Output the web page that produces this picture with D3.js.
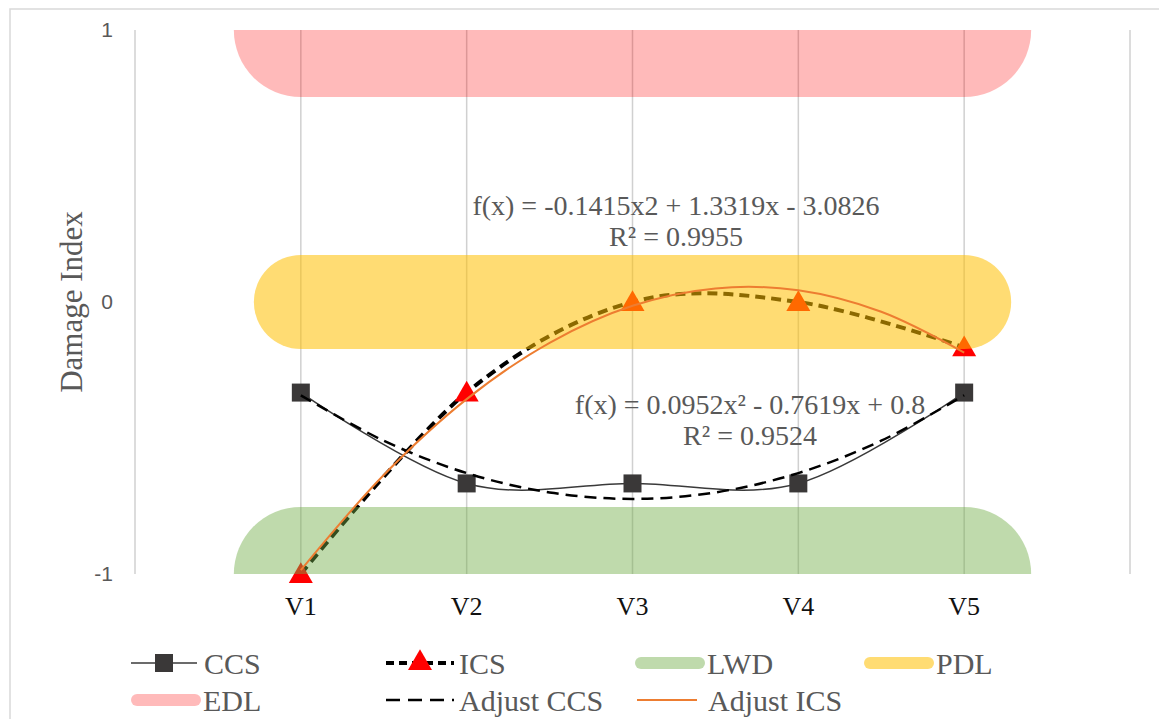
<!DOCTYPE html>
<html>
<head>
<meta charset="utf-8">
<script src="https://cdn.jsdelivr.net/npm/d3@7"></script>
<style>
  html, body { margin: 0; padding: 0; background: #fff; }
  svg { display: block; }
</style>
</head>
<body>
<div id="chart"></div>
<script>
// data
const categories = ['V1', 'V2', 'V3', 'V4', 'V5'];
const ccs = [-0.333, -0.667, -0.667, -0.667, -0.333];
const ics = [-1, -0.333, 0, 0, -0.167];
const lwd = [-1, -1, -1, -1, -1];
const pdl = [0, 0, 0, 0, 0];
const edl = [1, 1, 1, 1, 1];
// trendlines, read at half steps
const trendX = [1, 1.5, 2, 2.5, 3, 3.5, 4, 4.5, 5];
const adjustCcs = [-0.343, -0.510, -0.629, -0.700, -0.724, -0.700, -0.629, -0.510, -0.343];
const adjustIcs = [-0.986, -0.636, -0.357, -0.150, -0.014, 0.050, 0.043, -0.036, -0.186];
const yTicks = [-1, 0, 1];
const eqIcs = ['f(x) = -0.1415x2 + 1.3319x - 3.0826', 'R² = 0.9955'];
const eqCcs = ['f(x) = 0.0952x² - 0.7619x + 0.8', 'R² = 0.9524'];

const width = 1159;
const height = 719;
const serif = 'Liberation Serif, Times New Roman, serif';
const grey = '#595959';

const svg = d3.select('#chart').append('svg')
  .attr('width', width)
  .attr('height', height);

// chart border
svg.append('rect')
  .attr('x', 10).attr('y', 9)
  .attr('width', 1300).attr('height', 900)
  .attr('fill', 'none')
  .attr('stroke', '#d9d9d9')
  .attr('stroke-width', 1.5);

const x = d3.scaleLinear().domain([0, 6]).range([135, 1130]);
const y = d3.scaleLinear().domain([-1, 1]).range([574, 30]);

svg.append('clipPath').attr('id', 'plot')
  .append('rect')
  .attr('x', x(0)).attr('y', y(1))
  .attr('width', x(6) - x(0)).attr('height', y(-1) - y(1));

// vertical gridlines
svg.append('g')
  .selectAll('line')
  .data(d3.range(0, 7))
  .enter()
  .append('line')
  .attr('x1', d => x(d)).attr('x2', d => x(d))
  .attr('y1', y(1)).attr('y2', y(-1))
  .attr('stroke', '#d0d0d0')
  .attr('stroke-width', 1.5);

// y tick labels
svg.append('g')
  .selectAll('text')
  .data(yTicks)
  .enter()
  .append('text')
  .attr('x', 113)
  .attr('y', d => y(d))
  .attr('dy', '0.35em')
  .attr('text-anchor', 'end')
  .attr('font-family', 'Liberation Sans, Arial, sans-serif')
  .attr('font-size', 21)
  .attr('fill', grey)
  .text(d => d);

svg.append('text')
  .attr('transform', 'translate(82,' + y(0) + ') rotate(-90)')
  .attr('text-anchor', 'middle')
  .attr('font-family', serif)
  .attr('font-size', 31)
  .attr('fill', grey)
  .text('Damage Index');

// category labels
svg.append('g')
  .selectAll('text')
  .data(categories)
  .enter()
  .append('text')
  .attr('x', (d, i) => x(i + 1))
  .attr('y', 615)
  .attr('text-anchor', 'middle')
  .attr('font-family', serif)
  .attr('font-size', 26)
  .attr('fill', '#111')
  .text(d => d);

// layers: series lines, markers, bands, trendlines
const lineLayer = svg.append('g').attr('clip-path', 'url(#plot)');
const markerLayer = svg.append('g');
const bandLayer = svg.append('g').attr('clip-path', 'url(#plot)');
const trendLayer = svg.append('g').attr('clip-path', 'url(#plot)');

const smooth = d3.line()
  .x((d, i) => x(i + 1))
  .y(d => y(d))
  .curve(d3.curveCatmullRom.alpha(0));

const trendLine = d3.line()
  .x((d, i) => x(trendX[i]))
  .y(d => y(d))
  .curve(d3.curveCatmullRom.alpha(0.5));

// CCS
lineLayer.append('path')
  .attr('d', smooth(ccs))
  .attr('fill', 'none')
  .attr('stroke', '#3a3a3a')
  .attr('stroke-width', 1.5);
markerLayer.append('g')
  .selectAll('rect')
  .data(ccs)
  .enter()
  .append('rect')
  .attr('x', (d, i) => x(i + 1) - 9)
  .attr('y', d => y(d) - 9)
  .attr('width', 18).attr('height', 18)
  .attr('fill', '#3a3838');

// ICS
lineLayer.append('path')
  .attr('d', smooth(ics))
  .attr('fill', 'none')
  .attr('stroke', '#000')
  .attr('stroke-width', 4)
  .attr('stroke-dasharray', '10,6');
const tri = d3.symbol().type(d3.symbolTriangle).size(250);
markerLayer.append('g')
  .selectAll('path')
  .data(ics)
  .enter()
  .append('path')
  .attr('d', tri)
  .attr('transform', (d, i) => 'translate(' + x(i + 1) + ',' + (y(d) + 2) + ')')
  .attr('fill', '#ff0000');

// bands drawn as wide lines on top of the data series
const bands = [
  { name: 'LWD', values: lwd, color: 'rgba(112,173,71,0.45)', w: 134 },
  { name: 'PDL', values: pdl, color: 'rgba(255,192,0,0.55)', w: 94 },
  { name: 'EDL', values: edl, color: 'rgba(255,0,0,0.27)', w: 134 }
];
const straight = d3.line().x((d, i) => x(i + 1)).y(d => y(d));
bandLayer.selectAll('path')
  .data(bands)
  .enter()
  .append('path')
  .attr('d', d => straight(d.values))
  .attr('fill', 'none')
  .attr('stroke', d => d.color)
  .attr('stroke-width', d => d.w)
  .attr('stroke-linecap', 'round');

// trendlines
trendLayer.append('path')
  .attr('d', trendLine(adjustCcs))
  .attr('fill', 'none')
  .attr('stroke', '#000')
  .attr('stroke-width', 2.5)
  .attr('stroke-dasharray', '12,7');
trendLayer.append('path')
  .attr('d', trendLine(adjustIcs))
  .attr('fill', 'none')
  .attr('stroke', '#ed7d31')
  .attr('stroke-width', 2);

// equations
function equation(lines, cx, yTop) {
  svg.append('g')
    .selectAll('text')
    .data(lines)
    .enter()
    .append('text')
    .attr('x', cx)
    .attr('y', (d, i) => yTop + i * 31)
    .attr('text-anchor', 'middle')
    .attr('font-family', serif)
    .attr('font-size', 28)
    .attr('fill', grey)
    .text(d => d);
}
equation(eqIcs, 676, 215);
equation(eqCcs, 750, 414);

// legend
const legendItems = [
  { name: 'CCS', col: 0, row: 0, kind: 'ccs' },
  { name: 'ICS', col: 1, row: 0, kind: 'ics' },
  { name: 'LWD', col: 2, row: 0, kind: 'band', color: 'rgba(112,173,71,0.45)' },
  { name: 'PDL', col: 3, row: 0, kind: 'band', color: 'rgba(255,192,0,0.55)' },
  { name: 'EDL', col: 0, row: 1, kind: 'band', color: 'rgba(255,0,0,0.27)' },
  { name: 'Adjust CCS', col: 1, row: 1, kind: 'adjccs' },
  { name: 'Adjust ICS', col: 2, row: 1, kind: 'adjics' }
];
const colX = [131, 386, 635, 864];
const rowY = [663, 700];

const legend = svg.append('g');
legendItems.forEach(item => {
  const g = legend.append('g')
    .attr('transform', 'translate(' + colX[item.col] + ',' + rowY[item.row] + ')');
  if (item.kind === 'ccs') {
    g.append('line').attr('x1', 0).attr('x2', 66).attr('stroke', '#3a3a3a').attr('stroke-width', 1.5);
    g.append('rect').attr('x', 24).attr('y', -9).attr('width', 18).attr('height', 18).attr('fill', '#3a3838');
  } else if (item.kind === 'ics') {
    g.append('line').attr('x1', 0).attr('x2', 68).attr('stroke', '#000').attr('stroke-width', 4)
      .attr('stroke-dasharray', '8,5');
    g.append('path').attr('d', tri).attr('transform', 'translate(34,0)').attr('fill', '#ff0000');
  } else if (item.kind === 'band') {
    g.append('line').attr('x1', 6).attr('x2', 64).attr('stroke', item.color).attr('stroke-width', 12)
      .attr('stroke-linecap', 'round');
  } else if (item.kind === 'adjccs') {
    g.append('line').attr('x1', 0).attr('x2', 68).attr('stroke', '#000').attr('stroke-width', 2.5)
      .attr('stroke-dasharray', '14,8');
  } else {
    g.append('line').attr('x1', 2).attr('x2', 62).attr('stroke', '#ed7d31').attr('stroke-width', 2);
  }
  g.append('text')
    .attr('x', item.kind === 'band' ? 72 : 73)
    .attr('dy', '0.35em')
    .attr('font-family', serif)
    .attr('font-size', 30)
    .attr('fill', grey)
    .text(item.name);
});
</script>
</body>
</html>
